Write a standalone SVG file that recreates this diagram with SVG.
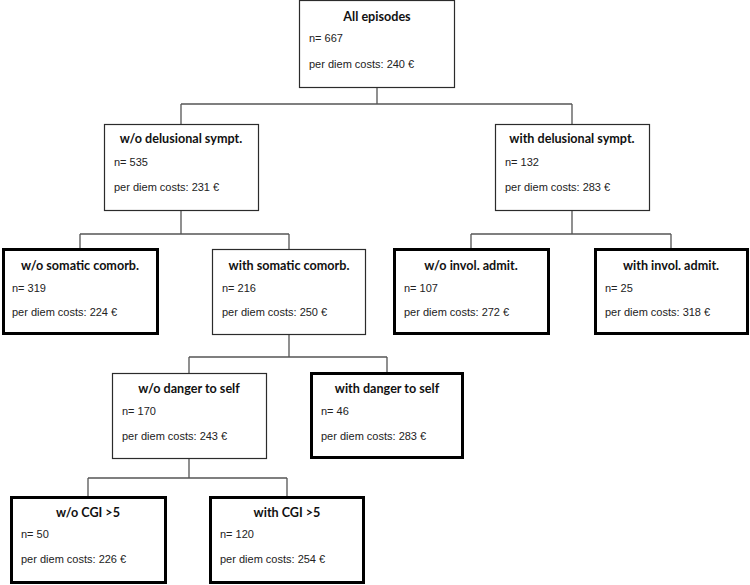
<svg xmlns="http://www.w3.org/2000/svg" width="750" height="585" viewBox="0 0 750 585">
<style>
.bg{fill:#fff}
.thin{fill:#fff;stroke:#2b2b2b;stroke-width:1.2}
.thick{fill:#fff;stroke:#000;stroke-width:3}
.t{font-family:Lato,"Open Sans","Liberation Sans",sans-serif;font-weight:bold;font-size:12.6px;fill:#111;text-anchor:middle}
.b{font-family:"Liberation Sans",Arial,sans-serif;font-size:11px;fill:#222}
.c{fill:none;stroke:#555;stroke-width:1.3}
</style>
<rect class="bg" width="750" height="585"/>
<g id="connectors">
<path class="c" d="M377,87V104M181,104H572M181,104V124M572,104V124"/>
<path class="c" d="M181,210V234M80,234H289M80,234V249M289,234V249"/>
<path class="c" d="M572,210V234M471,234H671M471,234V249M671,234V249"/>
<path class="c" d="M289,334V357M189,357H387M189,357V373M387,357V373"/>
<path class="c" d="M189,458V478M88,478H287M88,478V497M287,478V497"/>
</g>
<g id="all">
<rect class="thin" x="299.5" y="0.5" width="155" height="87"/>
<text class="t" x="377" y="21">All episodes</text>
<text class="b" x="309" y="42">n= 667</text>
<text class="b" x="309" y="68">per diem costs: 240 €</text>
</g>
<g id="wo_delusional">
<rect class="thin" x="104.5" y="124.5" width="154" height="86"/>
<text class="t" x="181" y="143">w/o delusional sympt.</text>
<text class="b" x="114" y="166">n= 535</text>
<text class="b" x="114" y="191">per diem costs: 231 €</text>
</g>
<g id="with_delusional">
<rect class="thin" x="495.5" y="124.5" width="154" height="86"/>
<text class="t" x="572" y="143">with delusional sympt.</text>
<text class="b" x="505" y="166">n= 132</text>
<text class="b" x="505" y="191">per diem costs: 283 €</text>
</g>
<g id="wo_somatic">
<rect class="thick" x="3.5" y="249.5" width="154" height="84"/>
<text class="t" x="80" y="270">w/o somatic comorb.</text>
<text class="b" x="12" y="292">n= 319</text>
<text class="b" x="12" y="316">per diem costs: 224 €</text>
</g>
<g id="with_somatic">
<rect class="thin" x="212.5" y="249.5" width="153" height="85"/>
<text class="t" x="289" y="270">with somatic comorb.</text>
<text class="b" x="222" y="292">n= 216</text>
<text class="b" x="222" y="316">per diem costs: 250 €</text>
</g>
<g id="wo_invol">
<rect class="thick" x="394.5" y="249.5" width="154" height="84"/>
<text class="t" x="471" y="270">w/o invol. admit.</text>
<text class="b" x="404" y="292">n= 107</text>
<text class="b" x="404" y="316">per diem costs: 272 €</text>
</g>
<g id="with_invol">
<rect class="thick" x="595.5" y="249.5" width="152" height="84"/>
<text class="t" x="671" y="270">with invol. admit.</text>
<text class="b" x="605" y="292">n= 25</text>
<text class="b" x="605" y="316">per diem costs: 318 €</text>
</g>
<g id="wo_danger">
<rect class="thin" x="112.5" y="373.5" width="154" height="85"/>
<text class="t" x="189" y="393">w/o danger to self</text>
<text class="b" x="122" y="415">n= 170</text>
<text class="b" x="122" y="440">per diem costs: 243 €</text>
</g>
<g id="with_danger">
<rect class="thick" x="311.5" y="373.5" width="151" height="84"/>
<text class="t" x="387" y="393">with danger to self</text>
<text class="b" x="321" y="415">n= 46</text>
<text class="b" x="321" y="440">per diem costs: 283 €</text>
</g>
<g id="wo_cgi">
<rect class="thick" x="11.5" y="497.5" width="154" height="85"/>
<text class="t" x="88" y="517">w/o CGI &gt;5</text>
<text class="b" x="21" y="538">n= 50</text>
<text class="b" x="21" y="563">per diem costs: 226 €</text>
</g>
<g id="with_cgi">
<rect class="thick" x="210.5" y="497.5" width="153" height="85"/>
<text class="t" x="287" y="517">with CGI &gt;5</text>
<text class="b" x="220" y="538">n= 120</text>
<text class="b" x="220" y="563">per diem costs: 254 €</text>
</g>
</svg>
